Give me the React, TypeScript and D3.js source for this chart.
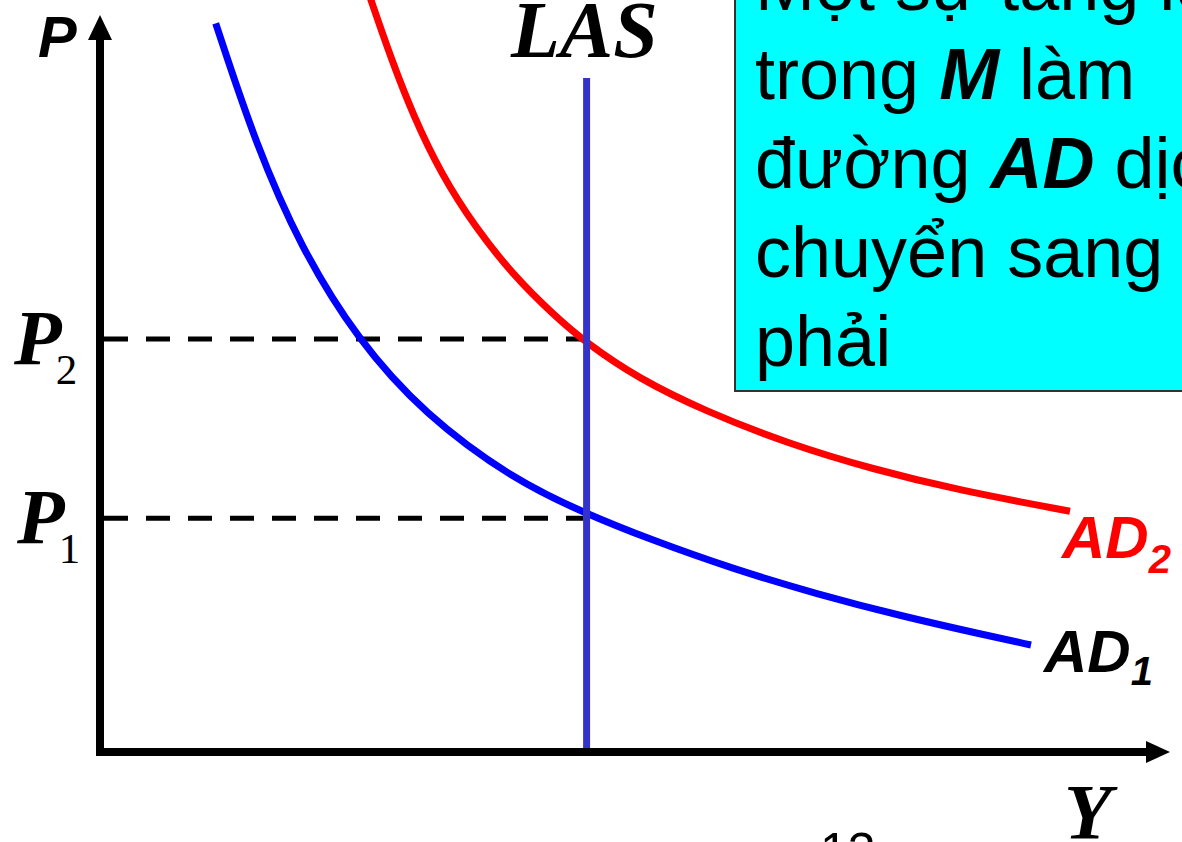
import React from "react";
import * as d3 from "d3";

// Data (Y = output, P = price level)
const ad1Y = [11.57, 15.6, 20.1, 25.7, 32.45, 41.4, 48.66, 54.9, 63.3, 71.7, 80.1, 88.5, 93.1];
const ad1P = [104.1, 86.7, 72.0, 59.0, 48.2, 38.86, 34.0, 30.43, 26.14, 22.57, 19.43, 16.71, 15.29];
const ad2Y = [26.7, 27.1, 29.1, 31.3, 34.1, 37.5, 41.4, 45.4, 48.66, 53.8, 60.5, 68.9, 77.3, 85.8, 97.0];
const ad2P = [109.1, 107.4, 99.1, 91.0, 82.6, 75.0, 68.0, 62.4, 58.4, 53.4, 48.7, 44.0, 40.4, 37.4, 34.4];
const lasY = 48.66;
const lasTopP = 96.3;
const priceLevels = [
  { name: "P", sub: "2", value: 59.0 },
  { name: "P", sub: "1", value: 33.4 },
];
const textLines = [
  [{ t: "Một sự tăng lên", b: false }],
  [{ t: "trong ", b: false }, { t: "M", b: true }, { t: " làm", b: false }],
  [{ t: "đường ", b: false }, { t: "AD", b: true }, { t: " dịch", b: false }],
  [{ t: "chuyển sang", b: false }],
  [{ t: "phải", b: false }],
];

const W = 1182;
const H = 842;

export default function App() {
  const x = d3.scaleLinear().domain([0, 107]).range([100, 1170]);
  const y = d3.scaleLinear().domain([0, 100]).range([752, 52]);
  const line = d3
    .line<[number, number]>()
    .x((d) => x(d[0]))
    .y((d) => y(d[1]))
    .curve(d3.curveBasis);
  const ad1 = line(ad1Y.map((v, i) => [v, ad1P[i]] as [number, number])) || "";
  const ad2 = line(ad2Y.map((v, i) => [v, ad2P[i]] as [number, number])) || "";
  const serif = "'Liberation Serif', 'Times New Roman', serif";
  const sans = "'Liberation Sans', Arial, sans-serif";
  const x0 = x(0);
  const yb = y(0);

  return (
    <svg
      width={W}
      height={H}
      style={{ position: "fixed", left: 0, top: 0, background: "#fff" }}
    >
      <defs>
        <clipPath id="clip">
          <rect x={0} y={0} width={W} height={H} />
        </clipPath>
      </defs>
      <g clipPath="url(#clip)">
        {/* text box */}
        <rect x={735} y={-20} width={470} height={411} fill="#00FFFF" stroke="#333" strokeWidth={2} />
        {textLines.map((ln, i) => (
          <text key={i} x={755} y={10 + i * 89} fontFamily={sans} fontSize={72} fill="#000">
            {ln.map((s, j) => (
              <tspan key={j} fontWeight={s.b ? "bold" : "normal"} fontStyle={s.b ? "italic" : "normal"}>
                {s.t}
              </tspan>
            ))}
          </text>
        ))}

        {/* dashed price lines */}
        {priceLevels.map((p, i) => (
          <line
            key={i}
            x1={x0 + 4}
            x2={x(lasY) - 3}
            y1={y(p.value)}
            y2={y(p.value)}
            stroke="#000"
            strokeWidth={5}
            strokeDasharray="24 18"
          />
        ))}

        {/* curves */}
        <path d={ad1} fill="none" stroke="#0000FF" strokeWidth={7} />
        <path d={ad2} fill="none" stroke="#FF0000" strokeWidth={7} />

        {/* LAS */}
        <line x1={x(lasY)} x2={x(lasY)} y1={y(lasTopP)} y2={yb} stroke="#3333CC" strokeWidth={7} />

        {/* axes */}
        <line x1={x0} x2={x0} y1={yb + 4} y2={38} stroke="#000" strokeWidth={8} />
        <polygon points={`${x0},15 ${x0 - 12},40 ${x0 + 12},40`} fill="#000" />
        <line x1={x0} x2={1148} y1={yb} y2={yb} stroke="#000" strokeWidth={8} />
        <polygon points={`1170,${yb} 1146,${yb - 11} 1146,${yb + 11}`} fill="#000" />

        {/* axis labels */}
        <text x={38} y={57} fontFamily={sans} fontWeight="bold" fontStyle="italic" fontSize={58}>P</text>
        <text x={1064} y={838} fontFamily={serif} fontWeight="bold" fontStyle="italic" fontSize={78}>Y</text>
        <text x={511} y={57} fontFamily={serif} fontWeight="bold" fontStyle="italic" fontSize={80}>LAS</text>

        {priceLevels.map((p, i) => (
          <text key={i} x={i === 0 ? 14 : 17} y={y(p.value) + 25} fontFamily={serif} fontSize={78}>
            <tspan fontWeight="bold" fontStyle="italic">{p.name}</tspan>
            <tspan fontSize={43} dx={-6} dy={20}>{p.sub}</tspan>
          </text>
        ))}

        {/* curve labels */}
        <text x={1062} y={558} fontFamily={sans} fontWeight="bold" fontStyle="italic" fontSize={60} fill="#FF0000">
          AD<tspan fontSize={40} dy={15}>2</tspan>
        </text>
        <text x={1044} y={672} fontFamily={sans} fontWeight="bold" fontStyle="italic" fontSize={60} fill="#000">
          AD<tspan fontSize={40} dy={13}>1</tspan>
        </text>

        {/* page number */}
        <text x={820} y={868} fontFamily={sans} fontSize={50}>13</text>
      </g>
    </svg>
  );
}
